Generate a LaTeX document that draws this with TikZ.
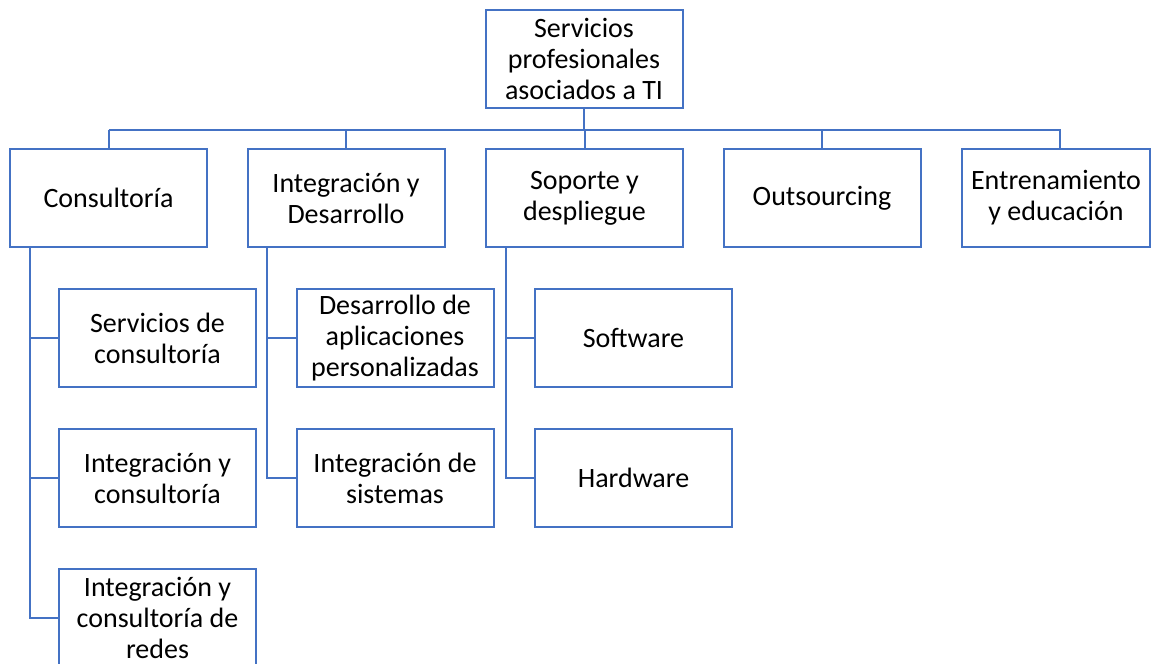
\documentclass[tikz,border=0pt]{standalone}
\usepackage{fontspec}
\setmainfont{Carlito}
\definecolor{boxblue}{HTML}{4472C4}
\begin{document}
\begin{tikzpicture}[x=1pt,y=-1pt,
  box/.style={draw=boxblue, line width=2pt, fill=white, rectangle,
    minimum width=197pt, minimum height=98pt, align=center, inner sep=1pt,
    font=\fontsize{28}{31}\selectfont},
  link/.style={draw=boxblue, line width=2pt}]
\useasboundingbox (0,0) rectangle (1152,664);
\clip (0,0) rectangle (1152,664);

% root
\node[box] (root) at (584,59) {Servicios\\profesionales\\asociados a TI};

% first level
\node[box] (c) at (108.5,198) {Consultoría};
\node[box] (i) at (346,198) {Integración y\\Desarrollo};
\node[box] (s) at (584.5,198) {Soporte y\\despliegue};
\node[box] (o) at (822,198) {Outsourcing};
\node[box, minimum width=188pt] (e) at (1056,198) {Entrenamiento\\y educación};

% second level
\node[box] (c1) at (157.5,338) {Servicios de\\consultoría};
\node[box] (c2) at (157.5,478) {Integración y\\consultoría};
\node[box] (c3) at (157.5,618) {Integración y\\consultoría de\\redes};
\node[box] (i1) at (395,338) {Desarrollo de\\aplicaciones\\personalizadas};
\node[box] (i2) at (395,478) {Integración de\\sistemas};
\node[box] (s1) at (633.5,338) {Software};
\node[box] (s2) at (633.5,478) {Hardware};

% bus between root and first level
\coordinate (bus) at (0,130);
\coordinate (eTop) at (1060,149);
\draw[link] (root.south) -- (root.south |- bus);
\draw[link] (c.north |- bus) -- (eTop |- bus) -- (eTop);
\foreach \n in {c,i,s,o} \draw[link] (\n.north |- bus) -- (\n.north);

% side rails to second level
\coordinate (cv) at (30,0);
\coordinate (iv) at (267,0);
\coordinate (sv) at (506,0);
\draw[link] (c.south -| cv) -- (c3.west -| cv) -- (c3.west);
\draw[link] (c1.west -| cv) -- (c1.west);
\draw[link] (c2.west -| cv) -- (c2.west);
\draw[link] (i.south -| iv) -- (i2.west -| iv) -- (i2.west);
\draw[link] (i1.west -| iv) -- (i1.west);
\draw[link] (s.south -| sv) -- (s2.west -| sv) -- (s2.west);
\draw[link] (s1.west -| sv) -- (s1.west);
\end{tikzpicture}
\end{document}
